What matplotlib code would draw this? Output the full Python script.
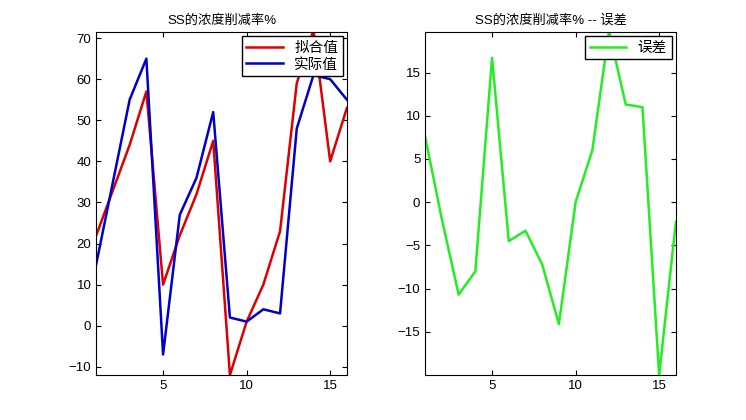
import matplotlib
matplotlib.use("Agg")
import matplotlib.pyplot as plt

plt.rcParams['font.family'] = ['Liberation Sans', 'Noto Sans CJK SC', 'DejaVu Sans']

x = list(range(1, 17))
fitted = [22, 33, 44, 57, 10, 22, 32, 45, -12, 1, 10, 23, 59, 72, 40, 53]
actual = [15, 35, 55, 65, -7, 27, 36, 52, 2, 1, 4, 3, 48, 61, 60, 55]
error = [7.5, -2, -10.7, -8, 16.7, -4.5, -3.3, -7.2, -14.1, 0, 6, 19.8, 11.3, 11, -20, -2.3]

fig = plt.figure(figsize=(7.46, 4.2), dpi=100)
ax1 = fig.add_axes([0.129, 0.107, 0.336, 0.817])
ax2 = fig.add_axes([0.570, 0.107, 0.336, 0.817])

ax1.plot(x, fitted, color="#dd0000", lw=1.8, label="拟合值")
ax1.plot(x, actual, color="#0000cc", lw=1.8, label="实际值")
ax1.set_xlim(1, 16); ax1.set_ylim(-12, 71.5)
ax1.set_title("SS的浓度削减率%", fontsize=9.5)
ax1.legend(loc="upper right", fontsize=10.5, fancybox=False, edgecolor="black",
           framealpha=1, borderaxespad=0.3, handlelength=2.5, borderpad=0.3,
           labelspacing=0.2)

ax2.plot(x, error, color="#22ee22", lw=1.8, label="误差")
ax2.set_xlim(1, 16); ax2.set_ylim(-20, 19.7)
ax2.set_yticks([-15, -10, -5, 0, 5, 10, 15])
ax2.set_title("SS的浓度削减率% -- 误差", fontsize=9.5)
ax2.legend(loc="upper right", fontsize=10.5, fancybox=False, edgecolor="black",
           framealpha=1, borderaxespad=0.3, handlelength=2.5, borderpad=0.3)

for ax in (ax1, ax2):
    ax.set_xticks([5, 10, 15])
    ax.tick_params(direction="in", top=True, right=True, labelsize=9.5)

fig.savefig("out.png", dpi=100)
